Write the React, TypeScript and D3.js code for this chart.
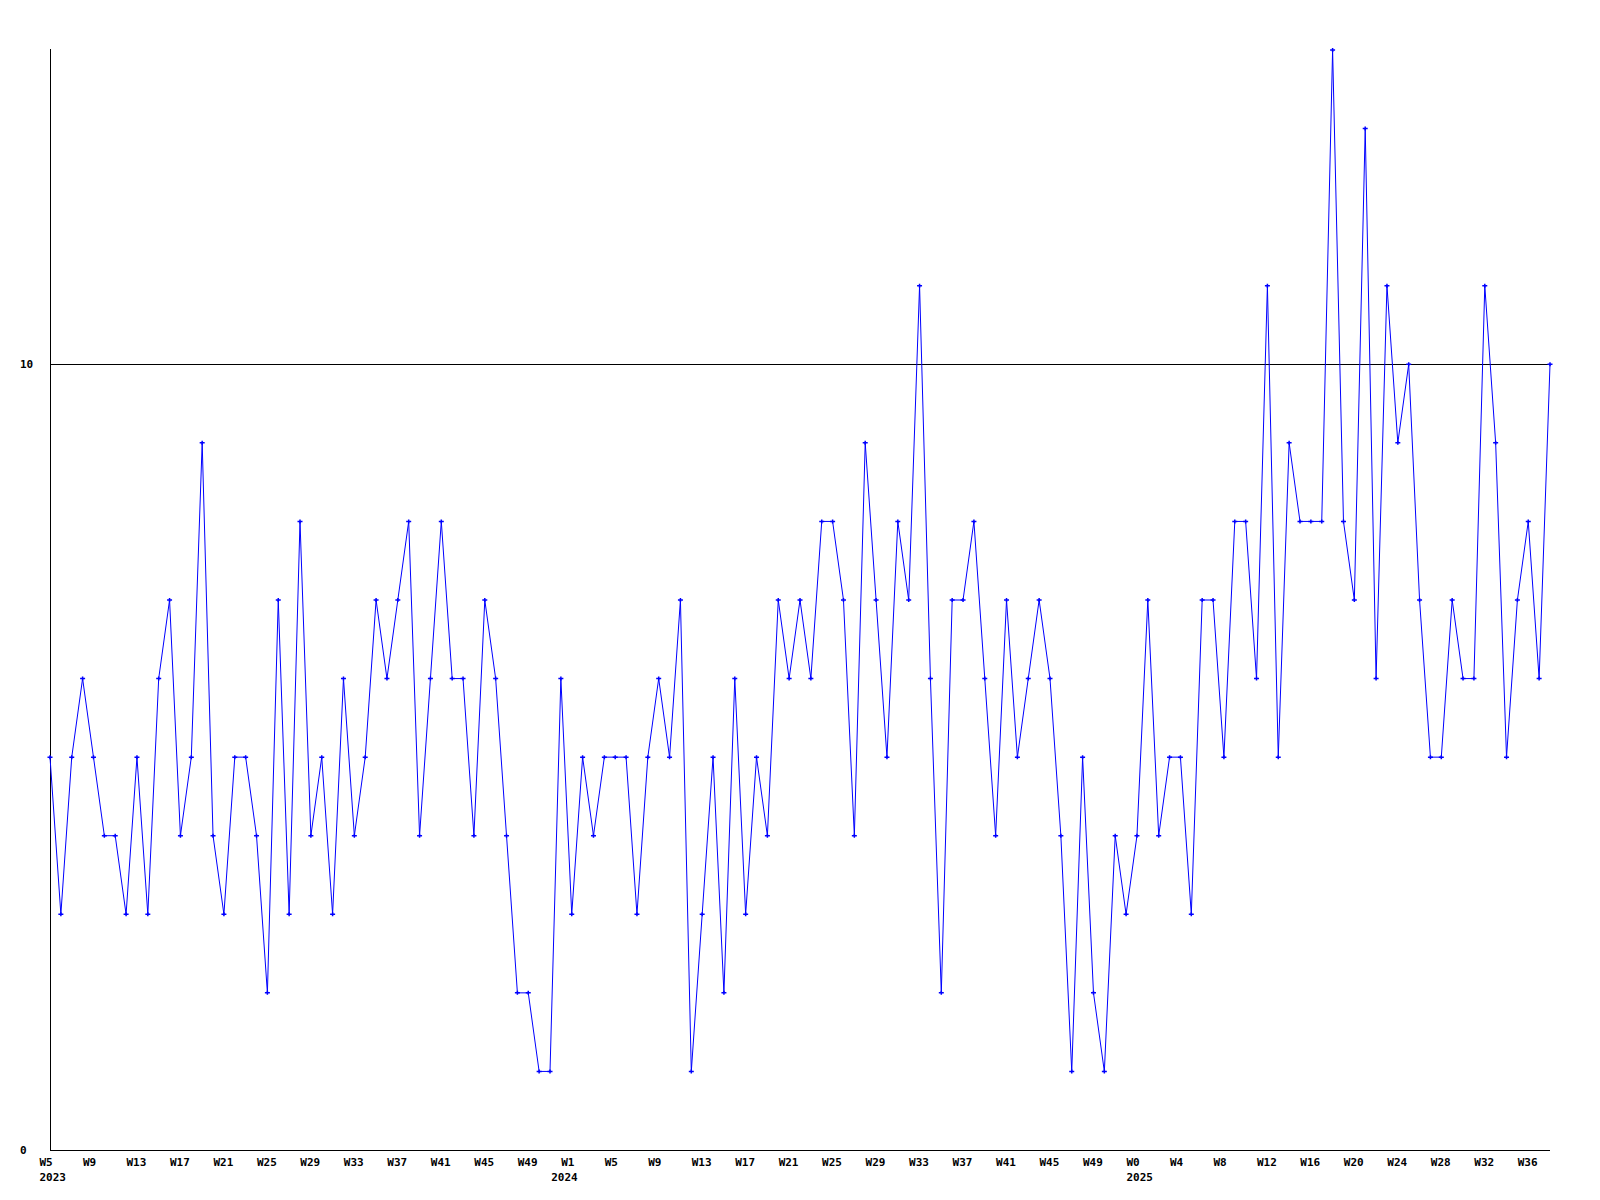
import React from 'react';
import * as d3 from 'd3';

// Weekly series, one array per year
const yearSegments = [
  { year: 2023, firstWeek: 5, lastWeek: 52 },
  { year: 2024, firstWeek: 1, lastWeek: 52 },
  { year: 2025, firstWeek: 0, lastWeek: 38 },
];

const values2023 = [
  5, 3, 5, 6, 5, 4, 4, 3, 5, 3,
  6, 7, 4, 5, 9, 4, 3, 5, 5, 4,
  2, 7, 3, 8, 4, 5, 3, 6, 4, 5,
  7, 6, 7, 8, 4, 6, 8, 6, 6, 4,
  7, 6, 4, 2, 2, 1, 1, 6,
];
const values2024 = [
  3, 5, 4, 5, 5, 5, 3, 5, 6, 5,
  7, 1, 3, 5, 2, 6, 3, 5, 4, 7,
  6, 7, 6, 8, 8, 7, 4, 9, 7, 5,
  8, 7, 11, 6, 2, 7, 7, 8, 6, 4,
  7, 5, 6, 7, 6, 4, 1, 5, 2, 1,
  4, 3,
];
const values2025 = [
  4, 7, 4, 5, 5, 3, 7, 7, 5, 8,
  8, 6, 11, 5, 9, 8, 8, 8, 14, 8,
  7, 13, 6, 11, 9, 10, 7, 5, 5, 7,
  6, 6, 11, 9, 5, 7, 8, 6, 10,
];

const yTicks = [0, 10];
const yMax = 14;
const labelEvery = 4;

type Pt = { i: number; year: number; week: number; v: number };

function buildPoints(): Pt[] {
  const series = [values2023, values2024, values2025];
  const pts: Pt[] = [];
  yearSegments.forEach((seg, si) => {
    const vals = series[si];
    for (let w = seg.firstWeek; w <= seg.lastWeek; w++) {
      pts.push({ i: pts.length, year: seg.year, week: w, v: vals[w - seg.firstWeek] });
    }
  });
  return pts;
}

export default function App() {
  const W = 1600;
  const H = 1200;
  const left = 50;
  const right = 1550;
  const top = 50;
  const bottom = 1150;
  const pts = buildPoints();

  const x = d3.scaleLinear().domain([0, pts.length - 1]).range([left, right]);
  const y = d3.scaleLinear().domain([0, yMax]).range([bottom, top]);

  const line = d3
    .line<Pt>()
    .x((d) => x(d.i))
    .y((d) => y(d.v));

  const font = "'DejaVu Sans Mono', monospace";

  const ticks = pts.filter((p) => p.i % labelEvery === 0);
  let prevYear = -1;
  // year captions that start mid-year (not at the first plotted week) sit a little to the left
  const yearShift = (p: Pt) => (p.i !== 0 && p.week > 0 ? -10 : 0);

  return (
    <svg
      width={W}
      height={H}
      viewBox={`0 0 ${W} ${H}`}
      style={{ position: 'absolute', left: 0, top: 0, display: 'block', background: '#ffffff' }}
    >
      <rect x={0} y={0} width={W} height={H} fill="#ffffff" />
      {/* horizontal reference lines */}
      {yTicks.map((t) => (
        <g key={t}>
          <line x1={left} x2={right} y1={Math.round(y(t)) + 0.5} y2={Math.round(y(t)) + 0.5} stroke="#000" strokeWidth={1} shapeRendering="crispEdges" />
          <text x={20} y={y(t)} dy="0.35em" fontFamily={font} fontWeight="bold" fontSize={11} fill="#000">
            {t}
          </text>
        </g>
      ))}
      {/* y axis */}
      <line x1={left + 0.5} x2={left + 0.5} y1={top - 1} y2={bottom} stroke="#000" strokeWidth={1} shapeRendering="crispEdges" />
      {/* x labels */}
      {ticks.map((p) => {
        const showYear = p.year !== prevYear;
        prevYear = p.year;
        const tx = x(p.i) - 10.5;
        return (
          <g key={p.i}>
            <text x={tx} y={1166} fontFamily={font} fontWeight="bold" fontSize={11} fill="#000">
              {`W${p.week}`}
            </text>
            {showYear && (
              <text x={tx + yearShift(p)} y={1181} fontFamily={font} fontWeight="bold" fontSize={11} fill="#000">
                {p.year}
              </text>
            )}
          </g>
        );
      })}
      {/* series */}
      <path d={line(pts) || ''} fill="none" stroke="#0000ff" strokeWidth={1} />
      {pts.map((p) => (
        <path
          key={p.i}
          d={`M${x(p.i) - 2.5},${y(p.v)}h5M${x(p.i)},${y(p.v) - 2}v4`}
          stroke="#0000ff"
          strokeWidth={1.5}
          fill="none"
        />
      ))}
    </svg>
  );
}
